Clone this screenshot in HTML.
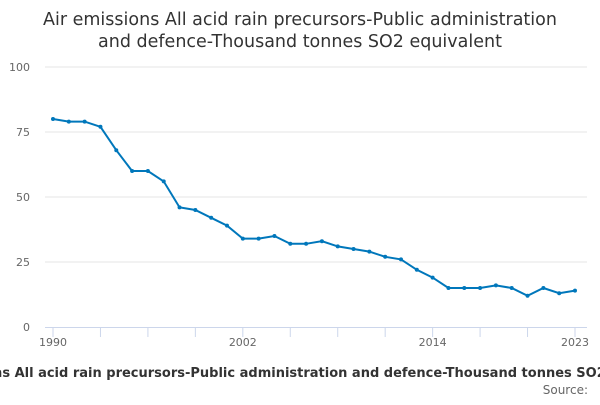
<!DOCTYPE html>
<html><head><meta charset="utf-8"><style>
body{margin:0;background:#fff;font-family:"Liberation Sans","DejaVu Sans",sans-serif}
</style></head><body>
<svg width="600" height="400" xmlns="http://www.w3.org/2000/svg" style="font-family:'DejaVu Sans','Liberation Sans',sans-serif">
<text x="300" y="25" text-anchor="middle" font-size="17.5" fill="#333">Air emissions All acid rain precursors-Public administration</text>
<text x="300" y="47" text-anchor="middle" font-size="17.5" fill="#333">and defence-Thousand tonnes SO2 equivalent</text>
<g id="grid"></g><g id="xaxis"></g><g id="series"></g>
<text x="300" y="377" text-anchor="middle" font-size="13" font-weight="bold" fill="#333">Air emissions All acid rain precursors-Public administration and defence-Thousand tonnes SO2 equivalent</text>
<text x="588" y="394" text-anchor="end" font-size="12" fill="#666">Source:</text>
</svg>
<script>
const years=[1990,1991,1992,1993,1994,1995,1996,1997,1998,1999,2000,2001,2002,2003,2004,2005,2006,2007,2008,2009,2010,2011,2012,2013,2014,2015,2016,2017,2018,2019,2020,2021,2022,2023];
const values=[80,79,79,77,68,60,60,56,46,45,42,39,34,34,35,32,32,33,31,30,29,27,26,22,19,15,15,15,16,15,12,15,13,14];
const yTicks=[0,25,50,75,100];
const xLabels=[1990,2002,2014,2023];
const NS='http://www.w3.org/2000/svg';
const x=y=>53+(y-1990)*(575-53)/33;
const yy=v=>327-v*2.6;
function mk(t,a,p){const e=document.createElementNS(NS,t);for(const k in a)e.setAttribute(k,a[k]);p.appendChild(e);return e;}
const g=document.getElementById('grid'),xa=document.getElementById('xaxis'),s=document.getElementById('series');
yTicks.forEach(v=>{
 if(v>0){const l=mk('line',{x1:45,x2:587,y1:yy(v),y2:yy(v),stroke:'#e6e6e6'},g);
 
 }
 const t=mk('text',{x:30,y:yy(v)+4,'text-anchor':'end','font-size':11,fill:'#666'},g);t.textContent=v;
 
 
});
const ax=mk('line',{x1:45,x2:587,y1:327.5,y2:327.5,stroke:'#ccd6eb'},xa);


for(let yr=1990;yr<=2023;yr+=3){const tk=mk('line',{x1:x(yr),x2:x(yr),y1:327,y2:337,stroke:'#ccd6eb'},xa);
 
 }
xLabels.forEach(yr=>{const t=mk('text',{x:x(yr),y:346,'text-anchor':'middle','font-size':11,fill:'#666'},xa);t.textContent=yr;
 
 });
const path=mk('path',{d:values.map((v,i)=>(i?'L':'M')+x(years[i])+' '+yy(v)).join(' '),fill:'none',stroke:'#0077bb','stroke-width':2},s);


values.forEach((v,i)=>{const c=mk('circle',{cx:x(years[i]),cy:yy(v),r:2,fill:'#0077bb'},s);
 
 });
</script>
</body></html>
